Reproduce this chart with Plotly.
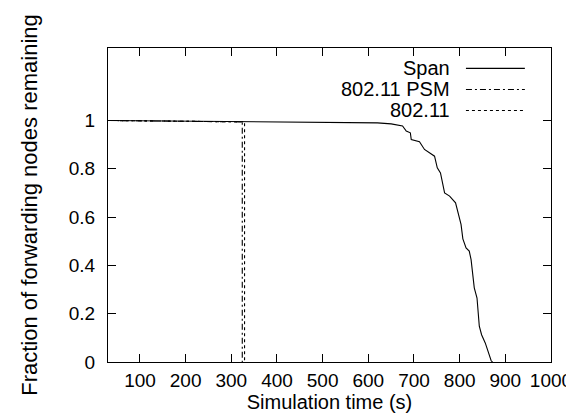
import plotly.graph_objects as go

# ---- data ----
span_x = [30, 100, 200, 325, 450, 600, 620, 650, 675, 683, 692, 694, 712, 723, 745,
          751, 758, 767, 778, 791, 803, 807, 814, 821, 825, 832, 838, 843, 848, 856,
          863, 869, 872]
span_y = [1.0, 0.999, 0.997, 0.995, 0.994, 0.992, 0.99, 0.986, 0.977, 0.956, 0.949,
          0.921, 0.912, 0.880, 0.852, 0.804, 0.783, 0.700, 0.687, 0.659, 0.57, 0.51,
          0.472, 0.459, 0.424, 0.307, 0.265, 0.148, 0.113, 0.079, 0.037, 0.005, 0.0]

psm_x = [30, 100, 200, 300, 324, 324]
psm_y = [1.0, 0.999, 0.997, 0.995, 0.994, 0.0]

wifi_x = [30, 100, 200, 300, 329, 329]
wifi_y = [1.0, 0.999, 0.997, 0.995, 0.994, 0.0]

x_ticks = [100, 200, 300, 400, 500, 600, 700, 800, 900, 1000]
y_ticks = [0, 0.2, 0.4, 0.6, 0.8, 1]
y_tick_text = ["0", "0.2", "0.4", "0.6", "0.8", "1"]

series_names = ["Span", "802.11 PSM", "802.11"]
series_dash = ["solid", "6px,3px,2px,3px", "3px,3px"]

FONT = "Liberation Sans, Arial, Helvetica, sans-serif"

fig = go.Figure()
for xs, ys, name, dash in zip([span_x, psm_x, wifi_x], [span_y, psm_y, wifi_y],
                              series_names, series_dash):
    fig.add_trace(go.Scatter(x=xs, y=ys, mode="lines", name=name,
                             line=dict(color="black", width=1.1, dash=dash),
                             showlegend=False))

# custom legend (text right-aligned, sample to the right), in paper coords
leg_top = 0.935
leg_step = 0.067
for i, (name, dash) in enumerate(zip(series_names, series_dash)):
    yy = leg_top - i * leg_step
    fig.add_annotation(xref="paper", yref="paper", x=0.777, y=yy, text=name,
                       showarrow=False, xanchor="right", yanchor="middle",
                       font=dict(family=FONT, size=20, color="black"))
    fig.add_shape(type="line", xref="paper", yref="paper", x0=0.808, x1=0.941,
                  y0=yy, y1=yy, line=dict(color="black", width=1.1, dash=dash))

axis_common = dict(showline=True, linecolor="black", linewidth=1.2, mirror="ticks",
                   ticks="inside", ticklen=8, tickcolor="black", tickwidth=1.2,
                   showgrid=False, zeroline=False,
                   tickfont=dict(family=FONT, size=19, color="black"))

fig.update_xaxes(range=[30, 1000], tickvals=x_ticks, ticklabelstandoff=1, **axis_common,
                 title=dict(text="Simulation time (s)", standoff=3,
                            font=dict(family=FONT, size=20, color="black")))
fig.update_yaxes(range=[0, 1.3], tickvals=y_ticks, ticktext=y_tick_text,
                 ticklabelstandoff=8, **axis_common,
                 title=dict(text="Fraction of forwarding nodes remaining", standoff=24,
                            font=dict(family=FONT, size=22, color="black")))

fig.update_layout(width=574, height=417, plot_bgcolor="white", paper_bgcolor="white",
                  margin=dict(l=100, r=31, t=40, b=63, autoexpand=False),
                  font=dict(family=FONT, size=19, color="black"))

fig.write_html("out.html")
